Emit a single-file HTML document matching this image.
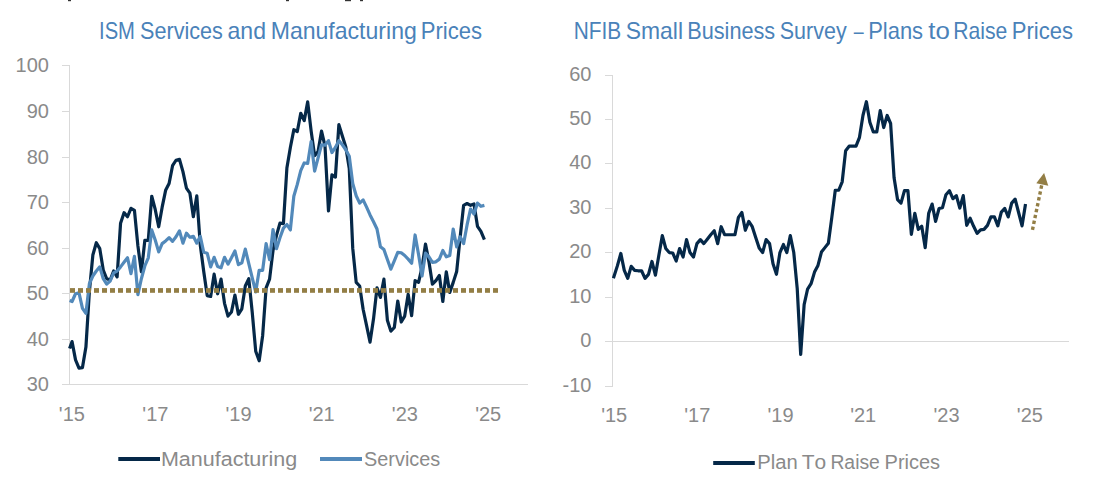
<!DOCTYPE html>
<html><head><meta charset="utf-8"><title>Charts</title>
<style>
html,body{margin:0;padding:0;background:#fff;}
body{width:1109px;height:481px;overflow:hidden;}
svg{display:block;font-family:"Liberation Sans", sans-serif;font-kerning:none;}
</style></head><body>
<svg width="1109" height="481" viewBox="0 0 1109 481">
<rect width="1109" height="481" fill="#fff"/>
<rect x="68" y="0" width="3" height="1.2" fill="#333"/>
<rect x="286" y="0" width="3" height="1.2" fill="#333"/>
<rect x="345" y="0" width="6" height="1.2" fill="#333"/>
<rect x="360" y="0" width="3" height="1.2" fill="#333"/>
<text x="99.04" y="38.8" font-size="23.2" fill="#4A82B9" textLength="35.92" lengthAdjust="spacingAndGlyphs">ISM</text>
<text x="140.02" y="38.8" font-size="23.2" fill="#4A82B9" textLength="82.86" lengthAdjust="spacingAndGlyphs">Services</text>
<text x="227.52" y="38.8" font-size="23.2" fill="#4A82B9" textLength="38.47" lengthAdjust="spacingAndGlyphs">and</text>
<text x="270.71" y="38.8" font-size="23.2" fill="#4A82B9" textLength="146.08" lengthAdjust="spacingAndGlyphs">Manufacturing</text>
<text x="420.69" y="38.8" font-size="23.2" fill="#4A82B9" textLength="61.31" lengthAdjust="spacingAndGlyphs">Prices</text>
<text x="573.69" y="38.7" font-size="23.2" fill="#4A82B9" textLength="47.51" lengthAdjust="spacingAndGlyphs">NFIB</text>
<text x="625.76" y="38.7" font-size="23.2" fill="#4A82B9" textLength="57.27" lengthAdjust="spacingAndGlyphs">Small</text>
<text x="687.22" y="38.7" font-size="23.2" fill="#4A82B9" textLength="87.96" lengthAdjust="spacingAndGlyphs">Business</text>
<text x="779.72" y="38.7" font-size="23.2" fill="#4A82B9" textLength="66.92" lengthAdjust="spacingAndGlyphs">Survey</text>
<text x="853.80" y="38.7" font-size="23.2" fill="#4A82B9" textLength="9.91" lengthAdjust="spacingAndGlyphs">–</text>
<text x="868.20" y="38.7" font-size="23.2" fill="#4A82B9" textLength="54.89" lengthAdjust="spacingAndGlyphs">Plans</text>
<text x="928.21" y="38.7" font-size="23.2" fill="#4A82B9" textLength="21.58" lengthAdjust="spacingAndGlyphs">to</text>
<text x="953.26" y="38.7" font-size="23.2" fill="#4A82B9" textLength="54.07" lengthAdjust="spacingAndGlyphs">Raise</text>
<text x="1011.79" y="38.7" font-size="23.2" fill="#4A82B9" textLength="61.20" lengthAdjust="spacingAndGlyphs">Prices</text>
<line x1="69.5" y1="65" x2="69.5" y2="385" stroke="#D9D9D9" stroke-width="1"/>
<line x1="62" y1="384.5" x2="528" y2="384.5" stroke="#D9D9D9" stroke-width="1"/>
<line x1="62" y1="384.5" x2="69.5" y2="384.5" stroke="#D9D9D9" stroke-width="1"/>
<text x="48.9" y="390.7" font-size="20" fill="#8A8A8A" text-anchor="end">30</text>
<line x1="62" y1="339.5" x2="69.5" y2="339.5" stroke="#D9D9D9" stroke-width="1"/>
<text x="48.9" y="345.7" font-size="20" fill="#8A8A8A" text-anchor="end">40</text>
<line x1="62" y1="293.5" x2="69.5" y2="293.5" stroke="#D9D9D9" stroke-width="1"/>
<text x="48.9" y="299.7" font-size="20" fill="#8A8A8A" text-anchor="end">50</text>
<line x1="62" y1="248.5" x2="69.5" y2="248.5" stroke="#D9D9D9" stroke-width="1"/>
<text x="48.9" y="254.7" font-size="20" fill="#8A8A8A" text-anchor="end">60</text>
<line x1="62" y1="202.5" x2="69.5" y2="202.5" stroke="#D9D9D9" stroke-width="1"/>
<text x="48.9" y="208.7" font-size="20" fill="#8A8A8A" text-anchor="end">70</text>
<line x1="62" y1="157.5" x2="69.5" y2="157.5" stroke="#D9D9D9" stroke-width="1"/>
<text x="48.9" y="163.7" font-size="20" fill="#8A8A8A" text-anchor="end">80</text>
<line x1="62" y1="111.5" x2="69.5" y2="111.5" stroke="#D9D9D9" stroke-width="1"/>
<text x="48.9" y="117.7" font-size="20" fill="#8A8A8A" text-anchor="end">90</text>
<line x1="62" y1="65.5" x2="69.5" y2="65.5" stroke="#D9D9D9" stroke-width="1"/>
<text x="48.9" y="71.7" font-size="20" fill="#8A8A8A" text-anchor="end">100</text>
<text x="71.89999999999999" y="420.7" font-size="20" fill="#8A8A8A" text-anchor="middle">'15</text>
<text x="155.4" y="420.7" font-size="20" fill="#8A8A8A" text-anchor="middle">'17</text>
<text x="238.60000000000002" y="420.7" font-size="20" fill="#8A8A8A" text-anchor="middle">'19</text>
<text x="321.7" y="420.7" font-size="20" fill="#8A8A8A" text-anchor="middle">'21</text>
<text x="404.90000000000003" y="420.7" font-size="20" fill="#8A8A8A" text-anchor="middle">'23</text>
<text x="488.2" y="420.7" font-size="20" fill="#8A8A8A" text-anchor="middle">'25</text>
<path d="M69.60,348.44 L72.06,341.61 L75.53,359.84 L78.99,368.04 L82.46,367.58 L85.92,347.08 L89.39,291.48 L92.85,255.03 L96.32,242.72 L99.78,248.65 L103.25,270.06 L106.71,278.72 L110.18,280.09 L113.64,270.97 L117.11,276.90 L120.57,223.13 L124.04,212.65 L127.50,216.75 L130.97,208.32 L134.44,210.37 L137.90,245.91 L141.37,271.89 L144.83,240.44 L148.29,240.44 L151.76,196.24 L155.22,209.46 L158.69,226.77 L162.15,207.18 L165.62,190.32 L169.08,183.48 L172.55,165.71 L176.01,160.24 L179.48,159.33 L182.94,171.63 L186.41,188.04 L189.88,193.05 L193.34,216.75 L196.80,195.78 L200.27,245.00 L203.73,271.43 L207.20,295.58 L210.66,296.49 L214.13,274.16 L217.59,293.76 L221.06,279.18 L224.52,303.33 L227.99,316.09 L231.45,311.99 L234.92,295.13 L238.38,314.27 L241.85,308.80 L245.31,286.01 L248.78,278.72 L252.24,312.44 L255.71,351.18 L259.17,360.75 L262.64,335.68 L266.11,287.84 L269.57,279.18 L273.03,250.47 L276.50,235.43 L279.96,223.13 L283.43,223.58 L286.89,167.99 L290.36,147.48 L293.82,129.71 L297.29,131.53 L300.75,113.30 L304.22,120.59 L307.68,101.91 L311.15,131.08 L314.62,155.68 L318.08,151.58 L321.54,131.08 L325.01,146.11 L328.48,210.82 L331.94,174.82 L335.40,177.10 L338.87,124.70 L342.34,136.09 L345.80,147.02 L349.26,168.44 L352.73,248.19 L356.19,282.37 L359.66,286.01 L363.12,309.25 L366.59,325.66 L370.05,342.06 L373.52,318.82 L376.99,287.84 L380.45,297.41 L383.91,279.18 L387.38,320.19 L390.85,331.13 L394.31,327.48 L397.77,301.05 L401.24,322.01 L404.70,316.09 L408.17,294.22 L411.63,315.63 L415.10,280.54 L418.56,282.37 L422.03,267.33 L425.50,244.09 L428.96,261.86 L432.42,284.19 L435.89,280.54 L439.36,275.53 L442.82,301.51 L446.28,271.89 L449.75,292.39 L453.22,282.37 L456.68,271.43 L460.14,237.25 L463.61,205.35 L467.07,203.53 L470.54,205.35 L474.00,203.99 L477.47,226.32 L480.93,231.33 L484.40,239.53" fill="none" stroke="#052848" stroke-width="3.2" stroke-linejoin="round"/>
<path d="M69.60,300.60 L72.06,301.51 L75.53,293.76 L78.99,292.85 L82.46,308.34 L85.92,313.36 L89.39,283.73 L92.85,275.99 L96.32,270.97 L99.78,266.87 L103.25,278.72 L106.71,284.19 L110.18,281.00 L113.64,272.80 L117.11,270.97 L120.57,266.87 L124.04,262.32 L127.50,257.76 L130.97,273.71 L134.44,256.39 L137.90,294.67 L141.37,278.72 L144.83,265.96 L148.29,257.76 L151.76,229.96 L155.22,239.99 L158.69,251.84 L162.15,243.63 L165.62,240.90 L169.08,237.71 L172.55,241.35 L176.01,236.80 L179.48,230.87 L182.94,243.18 L186.41,233.15 L189.88,237.25 L193.34,236.34 L196.80,243.18 L200.27,236.34 L203.73,252.29 L207.20,253.20 L210.66,266.87 L214.13,257.30 L217.59,266.42 L221.06,267.79 L224.52,257.30 L227.99,264.14 L231.45,257.76 L234.92,250.92 L238.38,264.60 L241.85,262.77 L245.31,249.10 L248.78,263.68 L252.24,277.81 L255.71,291.94 L259.17,270.29 L262.64,270.29 L266.11,243.63 L269.57,259.58 L273.03,229.51 L276.50,248.65 L279.96,237.71 L283.43,228.14 L286.89,224.49 L290.36,229.96 L293.82,196.24 L297.29,184.39 L300.75,170.72 L304.22,162.97 L307.68,163.43 L311.15,141.56 L314.62,171.18 L318.08,157.96 L321.54,144.75 L325.01,145.20 L328.48,140.64 L331.94,152.49 L335.40,147.48 L338.87,140.64 L342.34,144.75 L345.80,149.76 L349.26,156.14 L352.73,183.48 L356.19,195.78 L359.66,203.08 L363.12,199.89 L366.59,207.18 L370.05,214.92 L373.52,221.76 L376.99,229.05 L380.45,246.82 L383.91,249.56 L387.38,259.58 L390.85,269.15 L394.31,260.95 L397.77,252.29 L401.24,252.75 L404.70,255.48 L408.17,259.13 L411.63,263.23 L415.10,234.97 L418.56,254.57 L422.03,275.99 L425.50,253.20 L428.96,256.85 L432.42,262.32 L435.89,261.86 L439.36,259.13 L442.82,250.47 L446.28,256.85 L449.75,255.48 L453.22,229.05 L456.68,246.82 L460.14,236.80 L463.61,243.63 L467.07,224.95 L470.54,209.00 L474.00,214.01 L477.47,203.08 L480.93,206.27 L484.40,205.35" fill="none" stroke="#5289BA" stroke-width="3.2" stroke-linejoin="round"/>
<g fill="#937E45"><rect x="70" y="288.1" width="5" height="4.7"/><rect x="78" y="288.1" width="5" height="4.7"/><rect x="86" y="288.1" width="5" height="4.7"/><rect x="94" y="288.1" width="5" height="4.7"/><rect x="102" y="288.1" width="5" height="4.7"/><rect x="110" y="288.1" width="5" height="4.7"/><rect x="118" y="288.1" width="5" height="4.7"/><rect x="126" y="288.1" width="5" height="4.7"/><rect x="134" y="288.1" width="5" height="4.7"/><rect x="142" y="288.1" width="5" height="4.7"/><rect x="150" y="288.1" width="5" height="4.7"/><rect x="158" y="288.1" width="5" height="4.7"/><rect x="166" y="288.1" width="5" height="4.7"/><rect x="174" y="288.1" width="5" height="4.7"/><rect x="182" y="288.1" width="5" height="4.7"/><rect x="190" y="288.1" width="5" height="4.7"/><rect x="198" y="288.1" width="5" height="4.7"/><rect x="206" y="288.1" width="5" height="4.7"/><rect x="214" y="288.1" width="5" height="4.7"/><rect x="222" y="288.1" width="5" height="4.7"/><rect x="230" y="288.1" width="5" height="4.7"/><rect x="238" y="288.1" width="5" height="4.7"/><rect x="246" y="288.1" width="5" height="4.7"/><rect x="254" y="288.1" width="5" height="4.7"/><rect x="262" y="288.1" width="5" height="4.7"/><rect x="270" y="288.1" width="5" height="4.7"/><rect x="278" y="288.1" width="5" height="4.7"/><rect x="286" y="288.1" width="5" height="4.7"/><rect x="294" y="288.1" width="5" height="4.7"/><rect x="302" y="288.1" width="5" height="4.7"/><rect x="310" y="288.1" width="5" height="4.7"/><rect x="318" y="288.1" width="5" height="4.7"/><rect x="326" y="288.1" width="5" height="4.7"/><rect x="334" y="288.1" width="5" height="4.7"/><rect x="342" y="288.1" width="5" height="4.7"/><rect x="349" y="288.1" width="5" height="4.7"/><rect x="357" y="288.1" width="5" height="4.7"/><rect x="365" y="288.1" width="5" height="4.7"/><rect x="373" y="288.1" width="5" height="4.7"/><rect x="381" y="288.1" width="5" height="4.7"/><rect x="389" y="288.1" width="5" height="4.7"/><rect x="397" y="288.1" width="5" height="4.7"/><rect x="405" y="288.1" width="5" height="4.7"/><rect x="413" y="288.1" width="5" height="4.7"/><rect x="421" y="288.1" width="5" height="4.7"/><rect x="429" y="288.1" width="5" height="4.7"/><rect x="437" y="288.1" width="5" height="4.7"/><rect x="445" y="288.1" width="5" height="4.7"/><rect x="453" y="288.1" width="5" height="4.7"/><rect x="461" y="288.1" width="5" height="4.7"/><rect x="469" y="288.1" width="5" height="4.7"/><rect x="477" y="288.1" width="5" height="4.7"/><rect x="485" y="288.1" width="5" height="4.7"/><rect x="493" y="288.1" width="5" height="4.7"/></g>
<line x1="118.3" y1="459" x2="160" y2="459" stroke="#052848" stroke-width="3.8"/>
<text x="160.94" y="466" font-size="20" fill="#8A8A8A" textLength="136.25" lengthAdjust="spacingAndGlyphs">Manufacturing</text>
<line x1="320" y1="459" x2="362" y2="459" stroke="#5289BA" stroke-width="3.8"/>
<text x="364.10" y="466" font-size="20" fill="#8A8A8A" textLength="76.12" lengthAdjust="spacingAndGlyphs">Services</text>
<line x1="612.5" y1="75" x2="612.5" y2="387" stroke="#D9D9D9" stroke-width="1"/>
<line x1="605" y1="341.5" x2="1069" y2="341.5" stroke="#D9D9D9" stroke-width="1"/>
<line x1="605" y1="386.5" x2="612.5" y2="386.5" stroke="#D9D9D9" stroke-width="1"/>
<text x="591.4" y="391.7" font-size="20" fill="#8A8A8A" text-anchor="end">-10</text>
<line x1="605" y1="341.5" x2="612.5" y2="341.5" stroke="#D9D9D9" stroke-width="1"/>
<text x="591.4" y="346.7" font-size="20" fill="#8A8A8A" text-anchor="end">0</text>
<line x1="605" y1="297.5" x2="612.5" y2="297.5" stroke="#D9D9D9" stroke-width="1"/>
<text x="591.4" y="302.7" font-size="20" fill="#8A8A8A" text-anchor="end">10</text>
<line x1="605" y1="252.5" x2="612.5" y2="252.5" stroke="#D9D9D9" stroke-width="1"/>
<text x="591.4" y="257.7" font-size="20" fill="#8A8A8A" text-anchor="end">20</text>
<line x1="605" y1="208.5" x2="612.5" y2="208.5" stroke="#D9D9D9" stroke-width="1"/>
<text x="591.4" y="213.7" font-size="20" fill="#8A8A8A" text-anchor="end">30</text>
<line x1="605" y1="163.5" x2="612.5" y2="163.5" stroke="#D9D9D9" stroke-width="1"/>
<text x="591.4" y="168.7" font-size="20" fill="#8A8A8A" text-anchor="end">40</text>
<line x1="605" y1="119.5" x2="612.5" y2="119.5" stroke="#D9D9D9" stroke-width="1"/>
<text x="591.4" y="124.7" font-size="20" fill="#8A8A8A" text-anchor="end">50</text>
<line x1="605" y1="75.5" x2="612.5" y2="75.5" stroke="#D9D9D9" stroke-width="1"/>
<text x="591.4" y="80.7" font-size="20" fill="#8A8A8A" text-anchor="end">60</text>
<text x="614.1999999999999" y="421.6" font-size="20" fill="#8A8A8A" text-anchor="middle">'15</text>
<text x="697.3" y="421.6" font-size="20" fill="#8A8A8A" text-anchor="middle">'17</text>
<text x="780.5999999999999" y="421.6" font-size="20" fill="#8A8A8A" text-anchor="middle">'19</text>
<text x="863.1999999999999" y="421.6" font-size="20" fill="#8A8A8A" text-anchor="middle">'21</text>
<text x="946.5" y="421.6" font-size="20" fill="#8A8A8A" text-anchor="middle">'23</text>
<text x="1029.8999999999999" y="421.6" font-size="20" fill="#8A8A8A" text-anchor="middle">'25</text>
<path d="M613.40,278.34 L617.36,265.88 L620.82,253.42 L624.28,270.33 L627.74,278.34 L631.19,266.33 L634.65,270.33 L638.11,270.78 L641.57,270.78 L645.03,278.34 L648.49,274.34 L651.95,261.43 L655.41,275.22 L658.87,255.20 L662.33,235.63 L665.78,248.53 L669.24,252.54 L672.70,252.98 L676.16,260.99 L679.62,248.53 L683.08,256.98 L686.54,239.63 L690.00,252.54 L693.46,256.98 L696.92,243.64 L700.38,239.63 L703.83,243.64 L707.29,239.19 L710.75,234.74 L714.21,230.73 L717.67,243.64 L721.13,226.73 L724.59,234.74 L728.05,234.74 L731.51,234.74 L734.96,234.74 L738.42,217.39 L741.88,212.49 L745.34,230.29 L748.80,221.39 L752.26,226.73 L755.72,237.41 L759.18,248.09 L762.64,252.54 L766.10,239.63 L769.55,243.64 L773.01,263.66 L776.47,274.34 L779.93,252.54 L783.39,244.53 L786.85,252.54 L790.31,235.63 L793.77,252.54 L797.23,288.57 L800.69,354.42 L804.14,304.59 L807.60,289.02 L811.06,283.68 L814.52,272.11 L817.98,265.44 L821.44,252.09 L824.90,247.64 L828.36,243.19 L831.82,217.39 L835.28,190.25 L838.74,190.25 L842.19,181.80 L845.65,150.65 L849.11,146.20 L852.57,146.20 L856.03,146.20 L859.49,137.31 L862.95,115.51 L866.41,101.71 L869.87,122.18 L873.33,131.97 L876.78,131.97 L880.24,110.61 L883.70,127.52 L887.16,115.51 L890.62,123.51 L894.08,177.79 L897.54,199.59 L901.00,203.15 L904.46,190.69 L907.91,190.69 L911.37,234.29 L914.83,213.38 L918.29,229.40 L921.75,226.29 L925.21,247.64 L928.67,213.38 L932.13,204.04 L935.59,221.39 L939.05,208.49 L942.50,207.60 L945.96,194.70 L949.42,190.69 L952.88,198.70 L956.34,195.59 L959.80,208.05 L963.26,195.59 L966.72,225.40 L970.18,218.28 L973.64,226.29 L977.10,233.40 L980.55,229.85 L984.01,229.40 L987.47,225.40 L990.93,216.94 L994.39,216.94 L997.85,225.84 L1001.31,212.05 L1004.77,208.49 L1008.23,216.94 L1011.68,203.15 L1015.14,199.15 L1018.60,212.49 L1022.06,225.84 L1025.52,204.04" fill="none" stroke="#052848" stroke-width="3.2" stroke-linejoin="round"/>
<line x1="1032.45" y1="229.86" x2="1041.67" y2="185.4" stroke="#937E45" stroke-width="3.4" stroke-dasharray="3.4 2.6"/>
<polygon points="1044.1,173 1036.3,183.3 1048.3,185.8" fill="#937E45"/>
<line x1="713.2" y1="462.9" x2="754.8" y2="462.9" stroke="#052848" stroke-width="4.0"/>
<text x="757.34" y="468.8" font-size="20" fill="#8A8A8A" textLength="40.47" lengthAdjust="spacingAndGlyphs">Plan</text>
<text x="801.83" y="468.8" font-size="20" fill="#8A8A8A" textLength="24.45" lengthAdjust="spacingAndGlyphs">To</text>
<text x="830.41" y="468.8" font-size="20" fill="#8A8A8A" textLength="49.45" lengthAdjust="spacingAndGlyphs">Raise</text>
<text x="884.56" y="468.8" font-size="20" fill="#8A8A8A" textLength="55.56" lengthAdjust="spacingAndGlyphs">Prices</text>
</svg>
</body></html>
